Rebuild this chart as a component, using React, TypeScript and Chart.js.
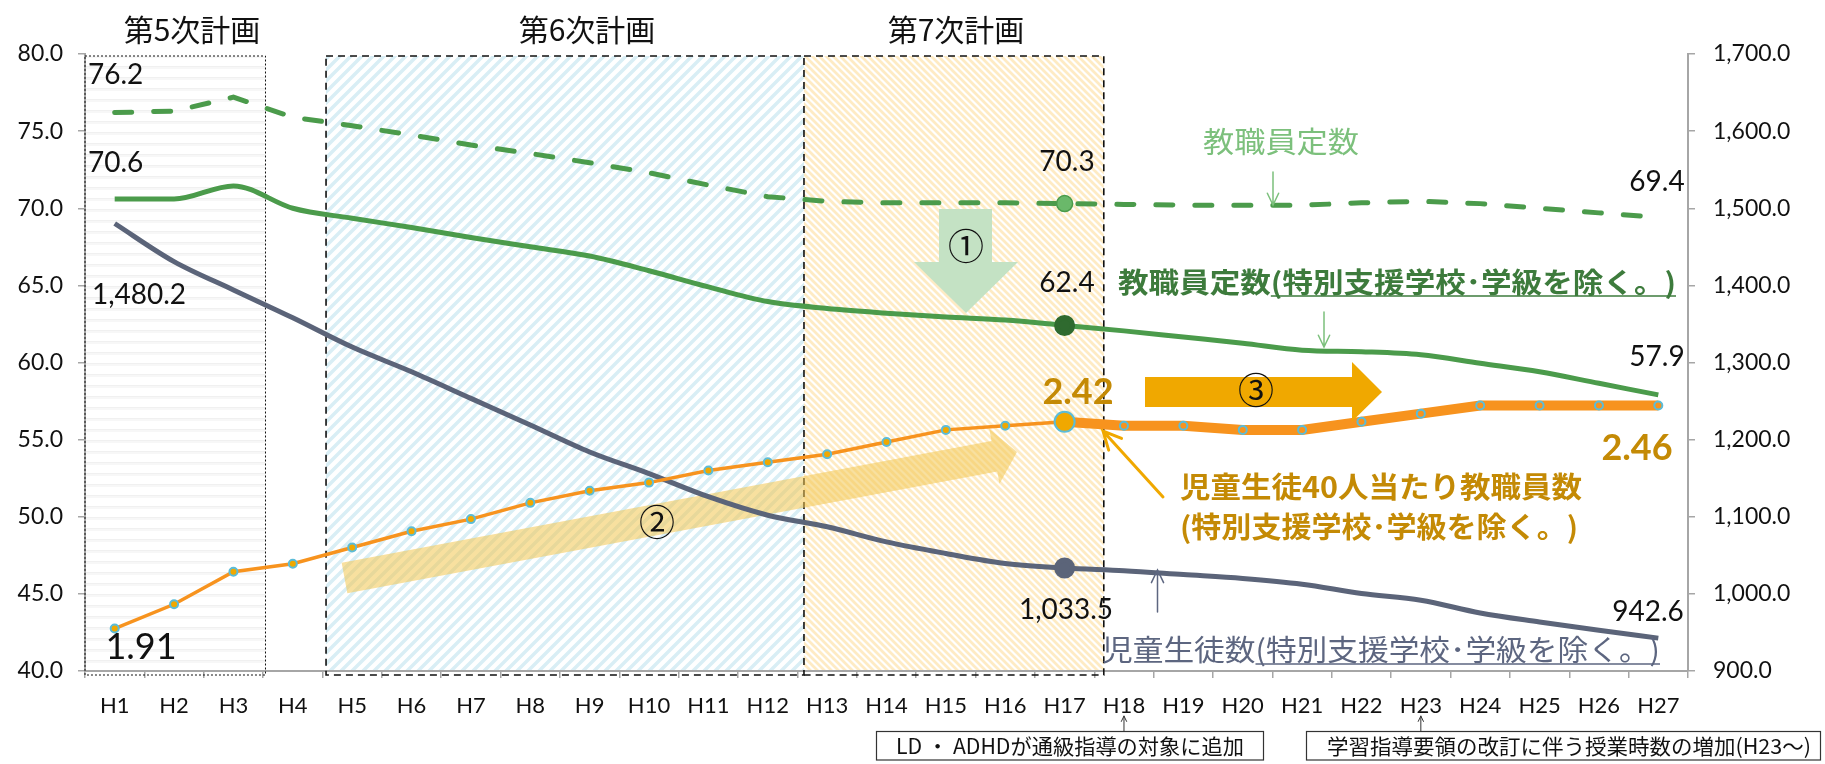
import React, { useEffect, useRef } from 'react';
import { Chart, registerables } from 'chart.js';
Chart.register(...registerables);

// ---------------- data ----------------
const CATEGORIES = ['H1','H2','H3','H4','H5','H6','H7','H8','H9','H10','H11','H12','H13','H14','H15','H16','H17','H18','H19','H20','H21','H22','H23','H24','H25','H26','H27'];
// 教職員定数 (万人, left axis)
const TEACHERS_TOTAL = [76.2, 76.3, 77.2, 75.9, 75.35, 74.75, 74.1, 73.55, 72.95, 72.3, 71.5, 70.75, 70.45, 70.35, 70.35, 70.35, 70.3, 70.25, 70.2, 70.2, 70.2, 70.35, 70.45, 70.3, 70.0, 69.7, 69.4];
// 教職員定数(特別支援学校・学級を除く。) (left axis)
const TEACHERS_EXCL = [70.6, 70.6, 71.45, 70.0, 69.35, 68.75, 68.1, 67.5, 66.9, 65.95, 64.9, 63.95, 63.5, 63.2, 62.95, 62.75, 62.4, 62.05, 61.65, 61.25, 60.8, 60.7, 60.5, 59.95, 59.4, 58.65, 57.9];
// 児童生徒数(特別支援学校・学級を除く。) (right axis)
const STUDENTS_EXCL = [1480.2, 1430.8, 1394.1, 1358, 1320, 1288, 1253.5, 1219, 1184, 1156, 1126, 1102, 1087, 1067.4, 1052.4, 1039.4, 1033.5, 1030, 1025, 1020, 1012.5, 1000.5, 991.8, 975.3, 963.6, 952.8, 942.6];
// 児童生徒40人当たり教職員数 (hidden axis)
const TEACHERS_PER_40 = [1.91, 1.97, 2.05, 2.07, 2.11, 2.15, 2.18, 2.22, 2.25, 2.27, 2.30, 2.32, 2.34, 2.37, 2.40, 2.41, 2.42, 2.41, 2.41, 2.40, 2.40, 2.42, 2.44, 2.46, 2.46, 2.46, 2.46];
const LEFT_TICKS = { min: 40, max: 80, step: 5 };
const RIGHT_TICKS = { min: 900, max: 1700, step: 100 };
const RATIO_RANGE = { min: 1.8054, max: 3.3269 };
const SPLIT_INDEX = 16; // H17

// ---------------- styles ----------------
const JP = '"Noto Sans CJK JP", sans-serif';
const NUM = 'Lato, "Noto Sans", sans-serif';
const AXIS = '#a6a6a6';
const GREEN = '#4b9b4b';
const SLATE = '#5b6479';
const ORANGE = '#f7931e';
const GOLD = '#c48a05';
const AMBER = '#f0a800';
const LIGHT_GREEN = '#7cc07c';

function makePattern(ctx: CanvasRenderingContext2D, kind: string) {
  const c = document.createElement('canvas');
  if (kind === 'hlines') {
    c.width = 8; c.height = 11;
    const g = c.getContext('2d')!;
    g.fillStyle = '#ffffff'; g.fillRect(0, 0, 8, 11);
    g.fillStyle = '#f0f0f0'; g.fillRect(0, 0, 8, 1.5);
    g.fillStyle = '#f7f7f7'; g.fillRect(0, 1.5, 8, 1.5);
  } else if (kind === 'blue') {
    const s = 11; c.width = s; c.height = s;
    const g = c.getContext('2d')!;
    g.fillStyle = '#ffffff'; g.fillRect(0, 0, s, s);
    g.strokeStyle = '#d9eef5'; g.lineWidth = 3.5;
    g.beginPath();
    g.moveTo(0, s); g.lineTo(s, 0);
    g.moveTo(-2, 2); g.lineTo(2, -2);
    g.moveTo(s - 2, s + 2); g.lineTo(s + 2, s - 2);
    g.stroke();
  } else {
    const s = 7; c.width = s; c.height = s;
    const g = c.getContext('2d')!;
    g.fillStyle = '#ffffff'; g.fillRect(0, 0, s, s);
    g.strokeStyle = '#feebc4'; g.lineWidth = 2.8;
    g.beginPath();
    g.moveTo(0, 0); g.lineTo(s, s);
    g.moveTo(-2, s - 2); g.lineTo(2, s + 2);
    g.moveTo(s - 2, -2); g.lineTo(s + 2, 2);
    g.stroke();
  }
  return ctx.createPattern(c, 'repeat')!;
}

function txt(ctx: CanvasRenderingContext2D, s: string, x: number, y: number, font: string, color: string, align: CanvasTextAlign = 'center', targetW?: number) {
  ctx.save();
  ctx.font = font;
  ctx.fillStyle = color;
  ctx.textBaseline = 'middle';
  ctx.textAlign = align;
  const w = ctx.measureText(s).width;
  const sx = targetW ? targetW / w : 1;
  ctx.translate(x, y);
  ctx.scale(sx, 1);
  ctx.fillText(s, 0, 0);
  ctx.restore();
  return sx;
}

function openArrow(ctx: CanvasRenderingContext2D, x1: number, y1: number, x2: number, y2: number, color: string, lw: number, head: number) {
  const a = Math.atan2(y2 - y1, x2 - x1);
  ctx.save();
  ctx.strokeStyle = color; ctx.lineWidth = lw; ctx.lineCap = 'round';
  ctx.beginPath();
  ctx.moveTo(x1, y1); ctx.lineTo(x2, y2);
  ctx.moveTo(x2 - head * Math.cos(a - 0.45), y2 - head * Math.sin(a - 0.45));
  ctx.lineTo(x2, y2);
  ctx.lineTo(x2 - head * Math.cos(a + 0.45), y2 - head * Math.sin(a + 0.45));
  ctx.stroke();
  ctx.restore();
}

function poly(ctx: CanvasRenderingContext2D, pts: number[][], fill: string) {
  ctx.save();
  ctx.fillStyle = fill;
  ctx.beginPath();
  pts.forEach((p, i) => (i ? ctx.lineTo(p[0], p[1]) : ctx.moveTo(p[0], p[1])));
  ctx.closePath();
  ctx.fill();
  ctx.restore();
}

function blockArrow(ctx: CanvasRenderingContext2D, tail: number[], tip: number[], halfW: number, headHalf: number, headLen: number, fill: string) {
  const dx = tip[0] - tail[0], dy = tip[1] - tail[1];
  const L = Math.hypot(dx, dy);
  const ux = dx / L, uy = dy / L, nx = -uy, ny = ux;
  const bx = tip[0] - ux * headLen, by = tip[1] - uy * headLen;
  poly(ctx, [
    [tail[0] + nx * halfW, tail[1] + ny * halfW],
    [bx + nx * halfW, by + ny * halfW],
    [bx + nx * headHalf, by + ny * headHalf],
    tip,
    [bx - nx * headHalf, by - ny * headHalf],
    [bx - nx * halfW, by - ny * halfW],
    [tail[0] - nx * halfW, tail[1] - ny * halfW],
  ], fill);
}

const PLAN_BOXES = [
  { title: '第5次計画', from: 0, to: 3.04, kind: 'hlines', dash: [2, 2], titleX: 192, skipLeft: false },
  { title: '第6次計画', from: 4.06, to: 12.11, kind: 'blue', dash: [7, 5], titleX: 587, skipLeft: false },
  { title: '第7次計画', from: 12.11, to: 17.16, kind: 'yellow', dash: [7, 5], titleX: 956, skipLeft: true },
];
const BOX_TOP = 56;
const BOX_BOTTOM = 675;

function underlinedLabel(ctx: CanvasRenderingContext2D, pre: string, rest: string, x: number, y: number, font: string, color: string, totalW: number, ulY: number) {
  ctx.save(); ctx.font = font;
  const w1 = ctx.measureText(pre).width, w2 = ctx.measureText(rest).width;
  ctx.restore();
  const s = totalW / (w1 + w2);
  txt(ctx, pre + rest, x, y, font, color, 'left', totalW);
  ctx.save(); ctx.strokeStyle = color; ctx.lineWidth = 1.5;
  ctx.beginPath(); ctx.moveTo(x + w1 * s, ulY); ctx.lineTo(x + totalW, ulY); ctx.stroke(); ctx.restore();
}

const decorPlugin = {
  id: 'decor',
  beforeDraw(chart: any) {
    const { ctx, chartArea } = chart;
    const cw = (chartArea.right - chartArea.left) / CATEGORIES.length;
    ctx.save();
    ctx.fillStyle = '#ffffff';
    ctx.fillRect(0, 0, chart.width, chart.height);
    PLAN_BOXES.forEach((b) => {
      const x0 = chartArea.left + b.from * cw, x1 = chartArea.left + b.to * cw;
      ctx.fillStyle = makePattern(ctx, b.kind);
      ctx.fillRect(x0, BOX_TOP, x1 - x0, chartArea.bottom - BOX_TOP);
      txt(ctx, b.title, b.titleX, 30, `30px ${JP}`, '#111');
    });
    ctx.restore();
  },
  beforeDatasetsDraw(chart: any) {
    const { ctx, chartArea } = chart;
    const cw = (chartArea.right - chartArea.left) / CATEGORIES.length;
    PLAN_BOXES.forEach((b) => {
      const x0 = chartArea.left + b.from * cw, x1 = chartArea.left + b.to * cw;
      ctx.save();
      ctx.strokeStyle = '#111';
      ctx.lineWidth = b.kind === 'hlines' ? 1 : 1.6;
      ctx.setLineDash(b.dash);
      ctx.beginPath();
      ctx.moveTo(x0, BOX_TOP); ctx.lineTo(x1, BOX_TOP); ctx.lineTo(x1, BOX_BOTTOM); ctx.lineTo(x0, BOX_BOTTOM);
      if (!b.skipLeft) ctx.lineTo(x0, BOX_TOP);
      ctx.stroke();
      ctx.restore();
    });
    // ① arrow
    poly(ctx, [[939, 209], [992, 209], [992, 262], [1018, 262], [966, 313], [914, 262], [939, 262]], '#c4e2c4');
    // ② arrow
    blockArrow(ctx, [344.5, 578], [1017, 452], 15.5, 28, 23, 'rgba(243, 198, 80, 0.55)');
  },
  afterDatasetsDraw(chart: any) {
    const { ctx } = chart;
    // ③ arrow
    poly(ctx, [[1145, 377], [1352, 377], [1352, 362], [1382, 392], [1352, 421.5], [1352, 407], [1145, 407]], AMBER);
    txt(ctx, '①', 966, 246, `36px ${JP}`, '#111');
    txt(ctx, '②', 657, 522, `36px ${JP}`, '#111');
    txt(ctx, '③', 1256, 390, `36px ${JP}`, '#111');

    // value labels
    const n28 = `28px ${NUM}`;
    txt(ctx, '76.2', 88, 75, n28, '#111', 'left');
    txt(ctx, '70.6', 88, 163, n28, '#111', 'left');
    txt(ctx, '1,480.2', 139, 295, n28, '#111');
    txt(ctx, '1.91', 141, 647, `36px ${NUM}`, '#111');
    txt(ctx, '70.3', 1067, 162, n28, '#111');
    txt(ctx, '62.4', 1067, 283, n28, '#111');
    txt(ctx, '2.42', 1078, 392, `bold 36px ${NUM}`, GOLD);
    txt(ctx, '1,033.5', 1066, 610, n28, '#111');
    txt(ctx, '69.4', 1657, 182, n28, '#111');
    txt(ctx, '57.9', 1657, 357, n28, '#111');
    txt(ctx, '2.46', 1637, 448, `bold 36px ${NUM}`, GOLD);
    txt(ctx, '942.6', 1648, 612, n28, '#111');

    // series labels
    txt(ctx, '教職員定数', 1203, 142, `29px ${JP}`, LIGHT_GREEN, 'left', 156);
    openArrow(ctx, 1273, 172, 1273, 205, LIGHT_GREEN, 1.5, 13);

    underlinedLabel(ctx, '教職員定数', '(特別支援学校･学級を除く。)', 1118, 282, `bold 28px ${JP}`, '#3d7b3c', 558, 296);
    openArrow(ctx, 1324, 312, 1324, 347, LIGHT_GREEN, 1.5, 13);

    txt(ctx, '児童生徒40人当たり教職員数', 1180, 487, `bold 29px ${JP}`, GOLD, 'left', 402);
    txt(ctx, '(特別支援学校･学級を除く。)', 1180, 527, `bold 29px ${JP}`, GOLD, 'left', 398);
    openArrow(ctx, 1163, 497, 1103, 431, AMBER, 3, 20);

    underlinedLabel(ctx, '児童生徒数', '(特別支援学校･学級を除く。)', 1102, 650, `29px ${JP}`, '#5d6680', 558, 664);
    openArrow(ctx, 1157.5, 612, 1157.5, 570, '#5d6680', 1.5, 14);
  },
  afterDraw(chart: any) {
    const { ctx } = chart;
    ctx.save();
    ctx.strokeStyle = '#333'; ctx.lineWidth = 1.2;
    ctx.strokeRect(876.5, 731.5, 387, 28.5);
    ctx.strokeRect(1306.5, 731.5, 514, 28.5);
    ctx.restore();
    txt(ctx, 'LD ・ ADHDが通級指導の対象に追加', 1070, 746.5, `21px ${JP}`, '#111', 'center', 348);
    txt(ctx, '学習指導要領の改訂に伴う授業時数の増加(H23～)', 1569, 746.5, `21px ${JP}`, '#111', 'center', 484);
    const xs = chart.scales.x;
    openArrow(ctx, xs.getPixelForValue(17), 731, xs.getPixelForValue(17), 716, '#333', 1, 6);
    openArrow(ctx, xs.getPixelForValue(22), 731, xs.getPixelForValue(22), 716, '#333', 1, 6);
  },
};

export default function App() {
  const ref = useRef<HTMLCanvasElement | null>(null);
  useEffect(() => {
    document.body.style.margin = '0';
    const canvas = ref.current!;
    const thin = TEACHERS_PER_40.map((v, i) => (i <= SPLIT_INDEX ? v : null));
    const thick = TEACHERS_PER_40.map((v, i) => (i >= SPLIT_INDEX ? v : null));
    const chart = new Chart(canvas, {
      type: 'line',
      data: {
        labels: CATEGORIES,
        datasets: [
          {
            label: '児童生徒40人当たり教職員数',
            data: thin,
            yAxisID: 'y3',
            borderColor: ORANGE,
            borderWidth: 3.5,
            pointRadius: TEACHERS_PER_40.map((_, i) => (i === SPLIT_INDEX ? 10 : 4)),
            pointBackgroundColor: AMBER,
            pointBorderColor: '#5bbcd8',
            pointBorderWidth: 2,
            order: 0,
          },
          {
            label: '児童生徒40人当たり教職員数(H17～)',
            data: thick,
            yAxisID: 'y3',
            borderColor: ORANGE,
            borderWidth: 10,
            pointRadius: TEACHERS_PER_40.map((_, i) => (i === SPLIT_INDEX ? 0 : 4)),
            pointBackgroundColor: ORANGE,
            pointBorderColor: '#5bbcd8',
            pointBorderWidth: 2,
            order: 1,
          },
          {
            label: '児童生徒数',
            data: STUDENTS_EXCL,
            yAxisID: 'y2',
            borderColor: SLATE,
            borderWidth: 5,
            cubicInterpolationMode: 'monotone',
            pointRadius: STUDENTS_EXCL.map((_, i) => (i === SPLIT_INDEX ? 8 : 0)),
            pointBackgroundColor: SLATE,
            pointBorderColor: SLATE,
            order: 2,
          },
          {
            label: '教職員定数(特別支援学校・学級を除く。)',
            data: TEACHERS_EXCL,
            yAxisID: 'y',
            borderColor: GREEN,
            borderWidth: 5,
            cubicInterpolationMode: 'monotone',
            pointRadius: TEACHERS_EXCL.map((_, i) => (i === SPLIT_INDEX ? 8 : 0)),
            pointBackgroundColor: '#2f6a2f',
            pointBorderColor: '#2f6a2f',
            order: 3,
          },
          {
            label: '教職員定数',
            data: TEACHERS_TOTAL,
            yAxisID: 'y',
            borderColor: GREEN,
            borderWidth: 5,
            borderDash: [17, 22],
            borderCapStyle: 'round',
            pointRadius: TEACHERS_TOTAL.map((_, i) => (i === SPLIT_INDEX ? 8 : 0)),
            pointBackgroundColor: '#6ab86a',
            pointBorderColor: GREEN,
            pointBorderWidth: 1.5,
            order: 4,
          },
        ],
      },
      options: {
        responsive: false,
        maintainAspectRatio: false,
        animation: false,
        devicePixelRatio: 1,
        layout: { padding: { top: 54, left: 0, right: 0, bottom: 0 } },
        plugins: { legend: { display: false }, tooltip: { enabled: false } },
        scales: {
          x: {
            offset: true,
            grid: { offset: true, drawOnChartArea: false, tickLength: 7, color: AXIS, lineWidth: 1.5 },
            border: { color: AXIS, width: 2 },
            ticks: { font: { family: NUM, size: 22 }, color: '#111', padding: 15, autoSkip: false, maxRotation: 0 },
            afterFit: (s: any) => { s.height = 93; },
          },
          y: {
            position: 'left',
            min: LEFT_TICKS.min,
            max: LEFT_TICKS.max,
            ticks: { stepSize: LEFT_TICKS.step, callback: (v: any) => Number(v).toFixed(1), font: { family: NUM, size: 23 }, color: '#111', padding: 15 },
            grid: { drawOnChartArea: false, tickLength: 7, color: AXIS, lineWidth: 1.5 },
            border: { color: AXIS, width: 2 },
            afterFit: (s: any) => { s.width = 85; },
          },
          y2: {
            position: 'right',
            min: RIGHT_TICKS.min,
            max: RIGHT_TICKS.max,
            ticks: {
              stepSize: RIGHT_TICKS.step,
              callback: (v: any) => Number(v).toLocaleString('en-US', { minimumFractionDigits: 1, maximumFractionDigits: 1 }),
              font: { family: NUM, size: 23 }, color: '#111', padding: 18,
            },
            grid: { drawOnChartArea: false, tickLength: 7, color: AXIS, lineWidth: 1.5 },
            border: { color: AXIS, width: 2 },
            afterFit: (s: any) => { s.width = 137; },
          },
          y3: { display: false, min: RATIO_RANGE.min, max: RATIO_RANGE.max },
        },
      },
      plugins: [decorPlugin],
    } as any);
    return () => chart.destroy();
  }, []);
  return (
    <div style={{ width: 1825, height: 764 }}>
      <canvas ref={ref} width={1825} height={764} style={{ display: 'block' }} />
    </div>
  );
}
